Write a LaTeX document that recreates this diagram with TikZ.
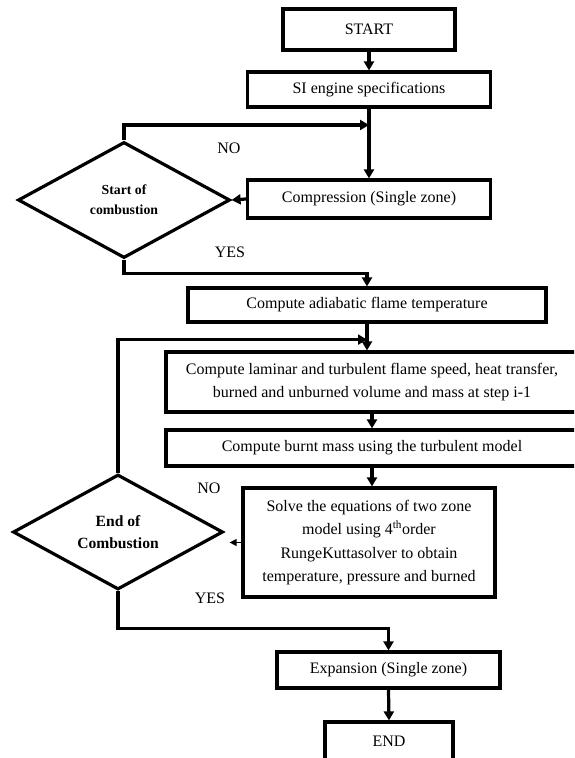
\documentclass[tikz,border=0pt]{standalone}
\usepackage{fontspec}
\setmainfont{Liberation Serif}
\usetikzlibrary{shapes.geometric,arrows.meta,calc}
\tikzset{
  box/.style={draw=black,line width=3.2pt,rectangle,inner sep=0pt,align=center,
    font=\fontsize{16}{23}\selectfont},
  dec/.style={draw=black,line width=3.2pt,diamond,inner sep=0pt,align=center},
  conn/.style={line width=3.2pt,-{Triangle[length=9pt,width=10pt]}},
  thinconn/.style={line width=1.3pt,-{Triangle[length=7pt,width=7pt]}},
  lbl/.style={font=\fontsize{16}{18}\selectfont,inner sep=0pt},
}
\begin{document}
\begin{tikzpicture}[x=1pt,y=-1pt]
\useasboundingbox (0,0) rectangle (574,758);
\clip (0,0) rectangle (574,758);
\node[box,minimum width=172pt,minimum height=41pt] (start) at (369,29.5) {START};
\node[box,minimum width=243pt,minimum height=35pt] (si) at (369,89.5) {SI engine specifications};
\node[box,minimum width=243pt,minimum height=38pt] (comp) at (369,199) {Compression (Single zone)};
\node[dec,minimum width=212pt,minimum height=116pt,font=\bfseries\fontsize{13.8}{20}\selectfont] (d1) at (124,200) {Start of\\combustion};
\node[box,minimum width=358pt,minimum height=34pt] (adi) at (367,305) {Compute adiabatic flame temperature};
\node[box,minimum width=412pt,minimum height=60pt] (lam) at (372,382) {Compute laminar and turbulent flame speed, heat transfer,\\burned and unburned volume and mass at step i-1};
\node[box,minimum width=412pt,minimum height=36pt] (burnt) at (372,448) {Compute burnt mass using the turbulent model};
\node[box,minimum width=252pt,minimum height=109pt,font=\fontsize{16}{23.3}\selectfont] (solve) at (369,542.5) {Solve the equations of two zone\\model using 4\textsuperscript{th}order\\RungeKuttasolver to obtain\\temperature, pressure and burned};
\node[dec,minimum width=210pt,minimum height=115pt,font=\bfseries\fontsize{15.6}{22}\selectfont] (d2) at (118,532) {End of\\Combustion};
\node[box,minimum width=223pt,minimum height=36pt] (exp) at (388.5,670) {Expansion (Single zone)};
\node[box,minimum width=128pt,minimum height=38pt] (end) at (389,741) {END};
% labels
\node[lbl] (no1) at (229,148) {NO};
\node[lbl] (yes1) at (230,252) {YES};
\node[lbl] (no2) at (209,488) {NO};
\node[lbl] (yes2) at (210,598) {YES};
% connectors
\coordinate (j1) at (369,125);
\coordinate (j2) at ($(adi.south)+(0,16)$);
\draw[conn] (start) -- (si);
\draw[line width=3.2pt] (si.south) -- (j1);
\draw[conn] (j1) -- (comp.north);
\draw[conn] (d1.north) |- (j1);
\draw[conn] (comp.west) -- (d1.east);
\draw[conn] (d1.south) -- ++(0,14) -| (adi.north);
\draw[conn] (adi.south) -- (adi.south |- lam.north);
\draw[conn] (d2.north) |- (j2);
\draw[conn] (lam.south) -- (burnt.north);
\draw[conn] (burnt.south) -- (burnt.south |- solve.north);
\draw[thinconn] (solve.west) -- ($(solve.west -| d2.east)+(5,0)$);
\draw[conn] (d2.south) -- ++(0,37) -| (exp.north);
\draw[conn] (exp.south) -- (end.north);
\end{tikzpicture}
\end{document}
